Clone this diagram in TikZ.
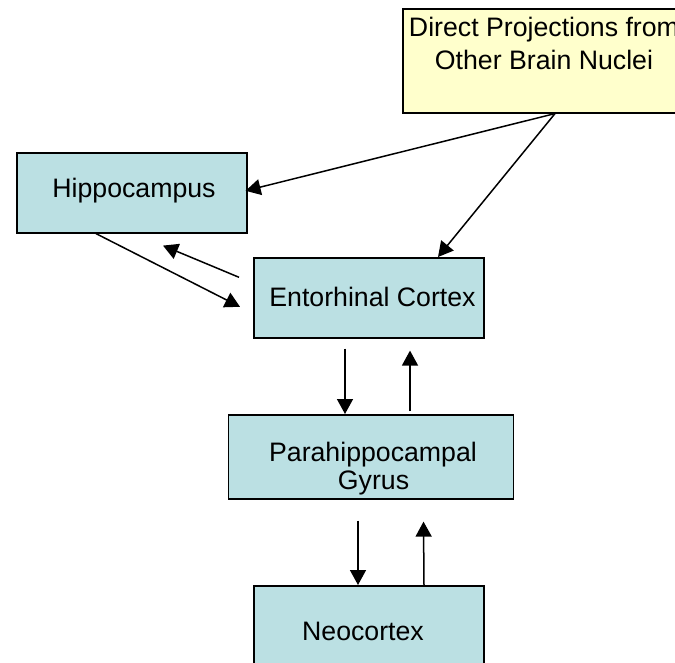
\documentclass[tikz,border=0pt]{standalone}
\usepackage{fontspec}
\setmainfont{Liberation Sans}
\usetikzlibrary{arrows.meta}
\definecolor{boxcyan}{RGB}{187,224,227}
\definecolor{boxyellow}{RGB}{255,255,204}
\tikzset{
  box/.style={draw=black, line width=1.6pt, fill=boxcyan, inner sep=0pt, anchor=north west},
  ybox/.style={box, fill=boxyellow},
  lbl/.style={inner sep=0pt, anchor=base, font=\fontsize{26.7}{30}\selectfont},
  arr/.style={line width=1.5pt, -{Triangle[length=15pt,width=16pt]}}
}
\begin{document}
\begin{tikzpicture}[x=1pt,y=-1pt]
\useasboundingbox (0,0) rectangle (675,663);
\clip (0,0) rectangle (675,663);
% boxes
\node[ybox, minimum width=290pt, minimum height=104pt] (direct) at (402,8) {};
\node[box, minimum width=230pt, minimum height=80pt] (hippo) at (16,152) {};
\node[box, minimum width=230pt, minimum height=80pt] (ento) at (253,257) {};
\node[box, minimum width=285pt, minimum height=84pt] (para) at (227.5,414) {};
\node[box, minimum width=230pt, minimum height=90pt] (neo) at (253,585) {};
% labels
\node[lbl] (direct1) at (544,37) {Direct Projections from};
\node[lbl] (direct2) at (544,70) {Other Brain Nuclei};
\node[lbl] (hippot) at (134,198) {Hippocampus};
\node[lbl] (entot) at (372.5,306) {Entorhinal Cortex};
\node[lbl] (parat1) at (373,461) {Parahippocampal};
\node[lbl] (parat2) at (373.5,489) {Gyrus};
\node[lbl] (neot) at (363,640) {Neocortex};
% connectors
\draw[arr] ([xshift=153pt]direct.south west) -- ([shift={(-2pt,2pt)}]hippo.east);
\draw[arr] ([xshift=153pt]direct.south west) -- ([xshift=185pt]ento.north west);
\draw[arr] ([shift={(-14pt,20.5pt)}]ento.west) -- ([shift={(147pt,-12pt)}]hippo.south west);
\draw[arr] ([xshift=80pt]hippo.south west) -- ([shift={(-13pt,-9pt)}]ento.west);
\draw[arr] ([shift={(92pt,-10pt)}]ento.south west) -- ([xshift=117.5pt]para.north west);
\draw[arr] ([shift={(182.5pt,3pt)}]para.north west) -- ([shift={(157pt,-12pt)}]ento.south west);
\draw[arr] ([shift={(130.5pt,-21pt)}]para.south west) -- ([xshift=105pt]neo.north west);
\draw[arr] ([xshift=171pt]neo.north west) -- ([shift={(196pt,-22pt)}]para.south west);
\end{tikzpicture}
\end{document}
